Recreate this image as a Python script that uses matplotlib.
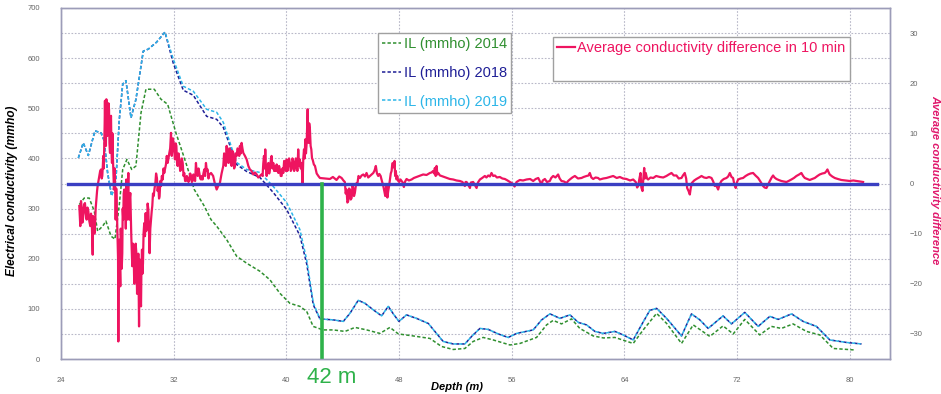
import matplotlib
matplotlib.use('Agg')
import matplotlib.pyplot as plt
from matplotlib.ticker import MultipleLocator
from matplotlib.lines import Line2D

plt.rcParams['font.family'] = ['Liberation Sans', 'DejaVu Sans']

# ---------------- data ----------------
depth_2019 = [25.23, 25.58, 25.94, 26.41, 26.84, 27.07, 27.31, 27.6, 27.9, 28.14, 28.38, 28.61, 28.97, 29.32,
              29.84, 30.2, 30.79, 31.38, 31.97, 32.68, 33.39, 34.34, 35.05, 35.52, 35.99, 36.46, 37.18, 38.12,
              39.07, 40.02, 40.96, 41.44, 41.91, 42.38, 43.33, 44.04, 44.51, 45.1, 45.58, 46.17, 46.76, 47.23,
              47.64, 47.99, 48.53, 49.24, 50.07, 50.54, 51.13, 51.84, 52.67, 53.15, 53.74, 54.33, 55.04, 55.75,
              56.34, 57.52, 58.12, 58.71, 59.42, 60.13, 60.72, 61.31, 61.9, 62.5, 63.32, 63.91, 64.62, 65.21,
              65.8, 66.28, 66.99, 68.05, 68.76, 69.35, 69.94, 71.0, 71.6, 72.54, 73.49, 74.32, 74.91, 75.86,
              76.68, 77.63, 78.58, 79.76, 80.83]
il_2019 = [401, 431, 406, 455, 451, 435, 371, 325, 358, 478, 548, 555, 481, 518,
           614, 618, 632, 652, 598, 544, 534, 498, 492, 472, 432, 392, 378, 372,
           344, 312, 258, 198, 112, 80, 78, 75, 91, 117, 111, 98, 86, 105,
           88, 75, 88, 81, 71, 55, 35, 30, 30, 45, 61, 59, 50, 43,
           51, 58, 78, 90, 81, 88, 73, 68, 55, 51, 55, 48, 38, 68,
           97, 101, 81, 46, 90, 78, 61, 86, 70, 93, 65, 85, 79, 90,
           75, 65, 38, 33, 30]

depth_2018 = depth_2019
il_2018 = [401, 431, 406, 455, 451, 435, 371, 325, 358, 478, 548, 555, 481, 518,
           614, 618, 632, 652, 590, 536, 526, 484, 478, 462, 426, 388, 374, 362,
           332, 298, 246, 190, 108, 80, 78, 75, 91, 117, 111, 98, 86, 105,
           88, 75, 88, 81, 71, 55, 35, 30, 30, 45, 61, 59, 50, 43,
           51, 58, 78, 90, 81, 88, 73, 68, 55, 51, 55, 48, 38, 68,
           97, 101, 81, 46, 90, 78, 61, 86, 70, 93, 65, 85, 79, 90,
           75, 65, 38, 33, 30]

depth_2014 = [25.3, 25.65, 26.0, 26.36, 26.6, 26.96, 27.19, 27.55, 27.83, 28.14, 28.38, 28.68, 29.02, 29.32,
              29.68, 30.03, 30.62, 31.1, 31.57, 32.16, 32.87, 33.46, 34.17, 34.65, 35.05, 35.76, 36.47, 37.18,
              38.12, 38.83, 39.54, 40.25, 40.96, 41.44, 41.9, 42.6, 43.33, 44.16, 44.87, 45.7, 46.64, 47.35,
              47.95, 49.0, 50.19, 51.01, 51.84, 52.67, 53.26, 53.97, 54.68, 55.87, 56.58, 57.76, 58.47, 58.94,
              59.53, 60.24, 60.83, 61.78, 62.5, 63.32, 64.62, 65.33, 66.28, 66.99, 68.05, 68.88, 70.06, 71.0,
              71.72, 72.54, 73.6, 74.43, 75.14, 75.97, 76.92, 77.87, 78.82, 80.36]
il_2014 = [308, 321, 321, 295, 255, 265, 275, 245, 239, 308, 378, 398, 378, 385,
           491, 538, 538, 518, 508, 451, 391, 338, 305, 278, 265, 238, 205, 191,
           175, 158, 131, 111, 105, 95, 65, 58, 58, 55, 63, 58, 51, 63,
           50, 46, 41, 25, 19, 21, 35, 43, 38, 28, 31, 43, 68, 77,
           70, 80, 61, 46, 42, 43, 31, 58, 91, 71, 31, 68, 45, 66,
           50, 79, 48, 65, 61, 70, 55, 48, 21, 18]

# average conductivity difference in 10 min (right axis)
diff_depth = [
    25.30, 25.34, 25.37, 25.42, 25.47, 25.52, 25.58, 25.64, 25.70, 25.76,
    25.82, 25.88, 25.94, 26.01, 26.08, 26.13, 26.18, 26.25, 26.28, 26.32,
    26.37, 26.41, 26.46, 26.51, 26.56, 26.60, 26.66, 26.72, 26.78, 26.84,
    26.89, 26.93, 26.97, 27.00, 27.04, 27.08, 27.10, 27.12, 27.15, 27.19,
    27.22, 27.26, 27.29, 27.34, 27.37, 27.41, 27.44, 27.48, 27.51, 27.55,
    27.58, 27.62, 27.65, 27.69, 27.72, 27.76, 27.80, 27.83, 27.86, 27.88,
    27.92, 27.95, 27.99, 28.02, 28.05, 28.07, 28.10, 28.14, 28.17, 28.21,
    28.24, 28.28, 28.31, 28.35, 28.38, 28.42, 28.45, 28.49, 28.53, 28.57,
    28.60, 28.64, 28.67, 28.71, 28.74, 28.78, 28.81, 28.85, 28.88, 28.92,
    28.95, 28.99, 29.02, 29.06, 29.11, 29.16, 29.20, 29.25, 29.30, 29.35,
    29.40, 29.44, 29.49, 29.54, 29.57, 29.61, 29.64, 29.68, 29.71, 29.75,
    29.78, 29.82, 29.86, 29.91, 29.96, 30.01, 30.05, 30.10, 30.15, 30.20,
    30.24, 30.29, 30.34, 30.39, 30.44, 30.48, 30.53, 30.58, 30.64, 30.70,
    30.75, 30.81, 30.86, 30.91, 30.96, 31.00, 31.05, 31.10, 31.16, 31.22,
    31.28, 31.33, 31.39, 31.45, 31.51, 31.57, 31.63, 31.69, 31.75, 31.81,
    31.86, 31.90, 31.95, 32.00, 32.05, 32.09, 32.14, 32.19, 32.24, 32.28,
    32.34, 32.40, 32.46, 32.52, 32.58, 32.64, 32.70, 32.75, 32.81, 32.87,
    32.93, 32.99, 33.05, 33.11, 33.17, 33.23, 33.29, 33.34, 33.40, 33.46,
    33.52, 33.58, 33.64, 33.70, 33.76, 33.82, 33.88, 33.94, 34.00, 34.05,
    34.11, 34.17, 34.23, 34.29, 34.35, 34.41, 34.47, 34.53, 34.65, 34.80,
    34.92, 35.05, 35.16, 35.28, 35.40, 35.52, 35.58, 35.64, 35.70, 35.76,
    35.82, 35.88, 35.94, 36.00, 36.05, 36.11, 36.17, 36.23, 36.29, 36.35,
    36.41, 36.47, 36.53, 36.59, 36.65, 36.70, 36.76, 36.82, 36.88, 36.94,
    37.06, 37.18, 37.30, 37.41, 37.53, 37.65, 37.77, 37.89, 38.00, 38.12,
    38.22, 38.31, 38.36, 38.41, 38.46, 38.50, 38.55, 38.60, 38.66, 38.72,
    38.78, 38.83, 38.89, 38.95, 39.01, 39.07, 39.13, 39.19, 39.25, 39.31,
    39.37, 39.43, 39.48, 39.54, 39.60, 39.66, 39.72, 39.78, 39.84, 39.90,
    39.96, 40.02, 40.07, 40.13, 40.19, 40.25, 40.31, 40.37, 40.43, 40.49,
    40.55, 40.61, 40.67, 40.73, 40.78, 40.84, 40.90, 40.96, 41.02, 41.08,
    41.15, 41.20, 41.25, 41.30, 41.34, 41.39, 41.44, 41.51, 41.55, 41.58,
    41.62, 41.67, 41.72, 41.77, 41.82, 41.86, 41.95, 42.03, 42.15, 42.27,
    42.38, 42.70, 43.09, 43.30, 43.56, 43.75, 43.92, 44.05, 44.15, 44.21,
    44.27, 44.33, 44.39, 44.45, 44.51, 44.57, 44.63, 44.69, 44.75, 44.80,
    44.86, 44.95, 45.03, 45.12, 45.22, 45.34, 45.46, 45.58, 45.69, 45.81,
    45.93, 46.05, 46.17, 46.26, 46.35, 46.43, 46.52, 46.60, 46.69, 46.78,
    46.88, 46.95, 47.02, 47.06, 47.11, 47.17, 47.23, 47.29, 47.35, 47.41,
    47.47, 47.52, 47.58, 47.63, 47.68, 47.72, 47.77, 47.82, 47.87, 47.94,
    48.01, 48.10, 48.18, 48.26, 48.34, 48.43, 48.53, 48.70, 48.89, 49.05,
    49.24, 49.45, 49.71, 49.95, 50.19, 50.30, 50.42, 50.48, 50.54, 50.60,
    50.66, 50.72, 50.78, 50.90, 51.01, 51.20, 51.37, 51.60, 51.84, 52.08,
    52.32, 52.50, 52.62, 52.67, 52.72, 52.79, 52.90, 53.03, 53.10, 53.26,
    53.38, 53.50, 53.60, 53.74, 53.90, 54.09, 54.20, 54.33, 54.45, 54.56,
    54.68, 54.80, 54.95, 55.15, 55.33, 55.51, 55.70, 55.87, 56.00, 56.10,
    56.20, 56.34, 56.45, 56.57, 56.80, 57.05, 57.30, 57.52, 57.70, 57.88,
    58.00, 58.11, 58.20, 58.35, 58.50, 58.70, 58.80, 58.94, 59.10, 59.29,
    59.40, 59.53, 59.70, 59.89, 60.00, 60.12, 60.30, 60.48, 60.70, 60.95,
    61.10, 61.31, 61.45, 61.54, 61.65, 61.78, 61.95, 62.13, 62.25, 62.50,
    62.72, 62.95, 63.20, 63.45, 63.67, 63.90, 64.14, 64.40, 64.62, 64.80,
    64.90, 64.97, 65.05, 65.14, 65.20, 65.28, 65.34, 65.40, 65.45, 65.51,
    65.60, 65.68, 65.85, 66.04, 66.25, 66.51, 66.75, 66.98, 67.15, 67.34,
    67.50, 67.69, 67.85, 68.05, 68.15, 68.28, 68.38, 68.45, 68.55, 68.64,
    68.70, 68.78, 68.95, 69.11, 69.30, 69.47, 69.65, 69.82, 70.00, 70.18,
    70.30, 70.41, 70.52, 70.65, 70.75, 70.88, 71.05, 71.24, 71.36, 71.48,
    71.60, 71.71, 71.80, 71.90, 71.98, 72.07, 72.25, 72.42, 72.60, 72.78,
    72.95, 73.13, 73.30, 73.49, 73.65, 73.84, 73.95, 74.08, 74.20, 74.32,
    74.45, 74.55, 74.65, 74.79, 74.95, 75.14, 75.30, 75.50, 75.65, 75.85,
    76.03, 76.21, 76.40, 76.56, 76.68, 76.80, 76.98, 77.15, 77.33, 77.51,
    77.70, 77.86, 78.05, 78.22, 78.32, 78.41, 78.50, 78.57, 78.75, 78.93,
    79.15, 79.40, 79.70, 79.99, 80.25, 80.47, 80.70, 80.94]
diff_value = [
    -4.5, -7.0, -8.5, -3.5, -4.9, -7.8, -6.5, -4.2, -3.9, -6.0,
    -7.2, -4.8, -5.5, -7.5, -8.5, -6.0, -7.2, -14.2, -6.5, -7.9,
    -10.0, -8.9, -5.0, -3.2, -1.5, -0.5, 0.5, 1.5, 2.5, 2.8,
    1.0, 1.5, 3.5, 5.5, 3.0, 8.8, 12.0, 16.5, 9.0, 7.5,
    16.8, 15.5, 9.5, 10.8, 16.0, 14.8, 8.0, 6.1, 12.5, 13.5,
    7.0, 4.1, 10.0, 4.8, 2.0, -1.2, 3.0, 0.8, -3.0, -7.2,
    -1.0, -3.2, -8.0, -12.5, -15.0, -31.5, -14.0, -11.2, -16.0, -20.5,
    -9.0, -11.9, -17.0, -13.9, -5.0, -7.2, -2.0, -1.2, -6.0, -4.5,
    -9.0, 0.8, -4.0, -7.2, -2.0, 2.1, -5.0, -7.2, -3.0, -1.9,
    -6.0, -10.5, -13.0, -16.5, -12.0, -14.5, -20.0, -18.5, -12.0, -13.9,
    -22.0, -19.2, -14.0, -28.5, -18.0, -15.2, -22.0, -24.5, -17.0, -13.2,
    -18.0, -15.9, -10.0, -7.9, -10.5, -5.9, -9.5, -8.5, -4.0, -5.2,
    -9.0, -13.9, -9.0, -7.2, -5.5, -4.5, -2.0, -2.5, -1.0, 0.1,
    2.0, 1.1, -1.5, -0.5, -3.0, -2.5, 0.5, -0.5, 1.5, 0.8,
    3.0, 2.1, 3.0, 3.8, 5.5, 4.1, 5.0, 6.1, 7.0, 10.1,
    5.5, 6.8, 9.0, 7.8, 6.0, 4.8, 8.0, 7.5, 4.0, 3.5,
    6.0, 4.8, 2.5, 2.8, 5.0, 4.1, 1.5, 2.1, 0.5, 0.5,
    1.5, 1.1, 0.3, 0.8, 2.0, 1.5, 0.3, 0.5, 1.8, 1.1,
    0.5, 4.1, 2.0, 1.5, 3.0, 2.1, 1.0, 0.8, 1.5, 0.8,
    2.0, 2.8, 1.5, 4.1, 2.5, 2.8, 1.0, 1.8, 2.1, 1.5,
    0.0, -1.2, -0.5, 0.1, 2.0, 3.5, 6.0, 5.5, 3.5, 7.5,
    4.5, 4.1, 7.0, 6.8, 4.0, 3.5, 6.5, 6.1, 3.0, 3.5,
    6.0, 5.5, 7.0, 6.8, 5.5, 7.5, 6.0, 8.1, 7.0, 6.1,
    5.5, 4.8, 3.5, 2.8, 2.5, 1.8, 2.2, 1.8, 1.2, 1.5,
    1.8, 1.5, 4.0, 5.5, 3.0, 6.8, 3.0, 1.5, 3.5, 4.1,
    2.0, 2.8, 4.5, 5.5, 3.0, 4.1, 2.5, 3.5, 2.5, 3.8,
    2.5, 2.1, 3.5, 2.8, 1.5, 1.5, 3.0, 2.1, 4.5, 3.5,
    2.5, 4.8, 2.5, 3.5, 5.0, 4.1, 2.5, 2.8, 5.0, 4.5,
    2.5, 3.1, 5.0, 4.1, 2.5, 6.8, 3.5, 4.8, 3.0, 4.1,
    0.1, 5.0, 6.8, 5.0, 8.8, 6.0, 8.1, 14.8, 9.0, 8.1,
    12.0, 10.8, 7.5, 6.8, 5.0, 4.8, 3.8, 3.5, 2.0, 1.5,
    1.1, 1.0, 0.9, 1.3, 0.7, 1.4, 1.1, 0.6, 0.3, -2.0,
    -1.2, -3.8, -3.5, -1.0, -1.2, -3.2, -2.9, -0.5, -0.9, -2.5,
    -1.9, 0.0, -0.2, 1.5, 1.1, 1.6, 1.8, 1.4, 2.1, 1.2,
    1.5, 1.8, 2.1, 2.6, 3.5, 2.0, 1.5, 1.9, 1.5, 0.5,
    -0.5, -1.5, -2.5, -1.0, -0.5, -2.8, -1.5, -0.5, 0.8, 2.0,
    2.5, 4.0, 4.1, 3.2, 4.5, 1.5, 2.5, 0.8, 1.5, 0.5,
    0.3, 0.8, 0.5, 0.2, -0.7, 0.4, 0.9, 0.6, 0.8, 1.1,
    1.3, 1.5, 1.8, 1.7, 2.1, 2.2, 2.5, 2.0, 3.1, 1.5,
    3.5, 1.8, 2.1, 1.6, 1.5, 1.3, 1.1, 0.9, 0.8, 0.6,
    0.5, 0.3, -0.3, -0.5, 0.3, 0.3, -0.2, -0.9, 0.2, 0.3,
    -0.3, -0.9, 0.2, 0.8, 1.1, 1.5, 1.2, 1.6, 1.4, 2.1,
    1.5, 1.6, 1.2, 1.3, 1.0, 0.9, 0.6, 0.3, 0.1, -0.2,
    -0.6, 0.3, 0.5, 0.7, 0.6, 0.8, 0.9, 0.5, 0.9, 1.1,
    0.4, -0.2, 0.6, 0.9, 0.3, 0.5, 1.1, 1.5, 1.2, 1.8,
    1.0, 0.5, 0.4, 0.1, 0.5, 0.8, 1.2, 1.5, 1.0, 1.1,
    1.3, 1.5, 1.6, 2.1, 1.2, 0.9, 1.2, 1.1, 0.8, 1.0,
    1.1, 1.3, 1.5, 1.1, 1.3, 1.0, 0.9, 0.6, 0.8, 0.3,
    -0.8, -0.5, 0.8, 2.1, -0.8, -1.5, 1.0, 3.1, 1.0, 2.1,
    1.0, 0.8, 1.2, 1.1, 1.5, 1.3, 1.2, 1.5, 1.8, 2.1,
    1.6, 1.6, 1.0, 1.1, 1.6, 2.1, 1.0, -0.9, -1.5, -2.2,
    -1.0, 0.1, 0.6, 0.9, 1.2, 1.5, 1.2, 1.1, 1.3, 1.1,
    0.4, -0.5, -0.4, -1.2, -0.2, 0.5, 0.9, 1.1, 1.4, 2.1,
    1.3, 1.1, -0.2, -0.9, 0.2, 0.8, 1.0, 1.1, 1.5, 1.8,
    2.0, 2.1, 1.6, 1.1, 0.4, -0.5, -0.8, -0.9, -0.2, 0.5,
    1.2, 1.6, 1.2, 0.9, 0.7, 0.5, 0.4, 0.3, 0.5, 0.8,
    1.1, 1.5, 1.8, 2.1, 1.5, 1.1, 0.9, 0.7, 0.9, 1.1,
    1.5, 1.8, 2.0, 2.1, 2.4, 2.8, 2.2, 1.8, 1.4, 1.1,
    0.9, 0.7, 0.6, 0.5, 0.6, 0.5, 0.4, 0.3]

baseline_depth = [24.5, 81.9]
baseline_value = [0, 0]

marker_depth = 42.5
marker_label = "42 m"

x_ticks = [24, 32, 40, 48, 56, 64, 72, 80]
left_ticks = [0, 100, 200, 300, 400, 500, 600, 700]
right_ticks = [-30, -20, -10, 0, 10, 20, 30]

# ---------------- colours ----------------
c14 = '#2F8F2F'
c18 = '#1E1E96'
c19 = '#2BB5E8'
cpink = '#EE1460'
cbase = '#3A3FC2'
cgreen = '#2EB24A'
cspine = '#9C9CB8'
cgrid = '#B8B8C8'
ctick = '#666666'

fig = plt.figure(figsize=(9.41, 3.94), dpi=100)
ax = fig.add_axes([61 / 941, 1 - 359 / 394, 829 / 941, 351 / 394])
ax2 = ax.twinx()

ax.set_xlim(24, 82.85)
ax.set_ylim(0, 700)
ax2.set_ylim(-35, 35)

ax.set_xticks(x_ticks)
ax.set_yticks(left_ticks)
ax.yaxis.set_minor_locator(MultipleLocator(50))
ax2.set_yticks(right_ticks)

ax.grid(True, which='both', axis='y', linestyle=(0, (1.5, 1.5)), color=cgrid, linewidth=0.8)
ax.grid(True, which='major', axis='x', linestyle=(0, (1.5, 1.5)), color=cgrid, linewidth=0.8)
ax.set_axisbelow(True)

for a in (ax, ax2):
    for s in a.spines.values():
        s.set_color(cspine)
        s.set_linewidth(1.0)
ax.tick_params(axis='both', which='both', length=0, labelsize=5.5, labelcolor=ctick)
ax.tick_params(axis='x', pad=13)
ax.tick_params(axis='y', pad=15)
ax2.tick_params(axis='y', length=0, labelsize=5.5, labelcolor=ctick, pad=14)

l14, = ax.plot(depth_2014, il_2014, color=c14, linewidth=1.1, linestyle=(0, (2.2, 1.4)))
l18, = ax.plot(depth_2018, il_2018, color=c18, linewidth=1.1, linestyle=(0, (2.2, 1.4)))
l19, = ax.plot(depth_2019, il_2019, color=c19, linewidth=1.1, linestyle=(0, (2.2, 1.4)))

lp, = ax2.plot(diff_depth, diff_value, color=cpink, linewidth=1.6)
ax2.plot(baseline_depth, baseline_value, color=cbase, linewidth=2.4)
ax2.plot([marker_depth, marker_depth], [-35, 0], color=cgreen, linewidth=2.6)

ax.set_ylabel('Electrical conductivity (mmho)', fontsize=8.5, fontweight='bold', fontstyle='italic', color='black')
ax.yaxis.set_label_coords((18 - 61) / 829, 0.48)
ax2.set_ylabel('Average conductivity difference', fontsize=8, fontweight='bold', fontstyle='italic',
               color='#E0186C', rotation=-90, va='center')
ax2.yaxis.set_label_coords((935 - 61) / 829, 0.51)
ax.set_xlabel('Depth (m)', fontsize=8, fontweight='bold', fontstyle='italic', color='black')
ax.xaxis.set_label_coords((457 - 61) / 829, -0.066)

ax.text((332 - 61) / 829, -0.053, marker_label, transform=ax.transAxes, color=cgreen,
        fontsize=16, ha='center', va='center')

leg1 = ax.legend([l14, l18, l19], ['IL (mmho) 2014', 'IL (mmho) 2018', 'IL (mmho) 2019'],
                 loc='upper left', bbox_to_anchor=((378 - 61) / 829, 1 - (33 - 8) / 351),
                 fontsize=10.5, handlelength=1.3, handletextpad=0.15, labelspacing=1.0,
                 borderaxespad=0, borderpad=0.3, fancybox=False, framealpha=1,
                 edgecolor='#A0A0A0')
for t, c in zip(leg1.get_texts(), [c14, c18, c19]):
    t.set_color(c)

blank = Line2D([], [], color='none')
leg2 = ax2.legend([lp, blank], ['Average conductivity difference in 10 min', ' '],
                  loc='upper left', bbox_to_anchor=((553 - 61) / 829, 1 - (37 - 8) / 351),
                  fontsize=10.5, handlelength=1.2, handletextpad=0.15,
                  borderaxespad=0, borderpad=0.3, fancybox=False, framealpha=1,
                  edgecolor='#A0A0A0')
for t in leg2.get_texts():
    t.set_color(cpink)

fig.savefig('out.png', dpi=100)
